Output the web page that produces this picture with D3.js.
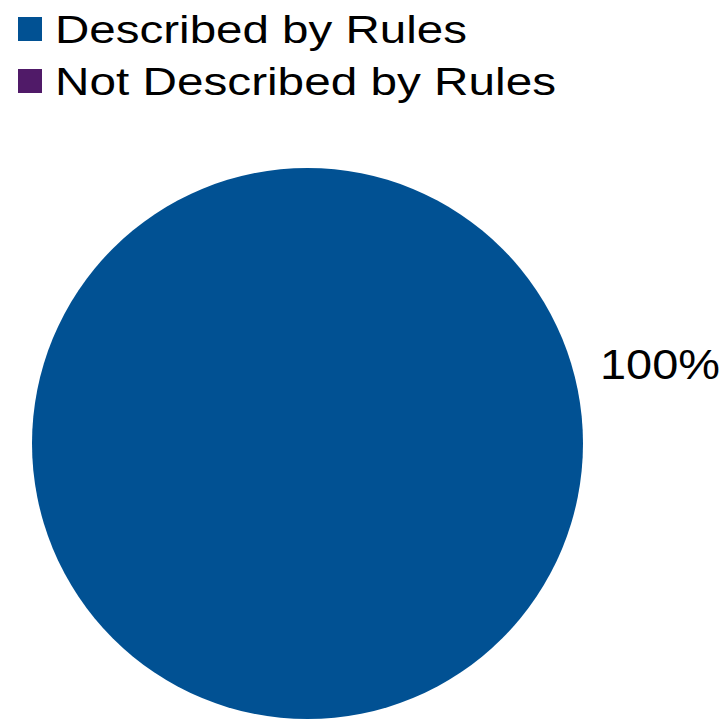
<!DOCTYPE html>
<html>
<head>
<meta charset="utf-8">
<script src="https://cdn.jsdelivr.net/npm/d3@7"></script>
<style>
  html, body { margin: 0; padding: 0; background: #fff; }
  svg { display: block; }
  text { font-family: "Liberation Sans", Arial, sans-serif; fill: #000; }
</style>
</head>
<body>
<svg id="chart" width="725" height="720"></svg>
<script>
const categories = ["Described by Rules", "Not Described by Rules"];
const values = [100, 0];
const colors = ["#015193", "#501A68"];
const labelTexts = ["100%", "0%"];

const svg = d3.select("#chart");
const width = 725, height = 720;
const cx = 307.5, cy = 443.5, radius = 275.5;

const color = d3.scaleOrdinal().domain(categories).range(colors);
const data = categories.map((c, i) => ({ category: c, value: values[i], label: labelTexts[i] }));

const pie = d3.pie().sort(null).value(d => d.value);
const arc = d3.arc().innerRadius(0).outerRadius(radius);

const g = svg.append("g").attr("transform", `translate(${cx},${cy})`);
const arcs = pie(data);
g.selectAll("path.slice")
  .data(arcs.filter(d => d.data.value > 0))
  .join("path")
  .attr("class", "slice")
  .attr("d", arc)
  .attr("fill", d => color(d.data.category));

// data label for the non-zero slice, placed to the right of the pie
g.selectAll("text.lbl")
  .data(arcs.filter(d => d.data.value > 0))
  .join("text")
  .attr("class", "lbl")
  .attr("x", radius + 17)
  .attr("y", -65)
  .attr("font-size", 43)
  .attr("textLength", 120)
  .attr("lengthAdjust", "spacingAndGlyphs")
  .text(d => d.data.label);

// legend
const legendWidths = [412, 501];
const legend = svg.append("g").attr("transform", "translate(18,17)");
const items = legend.selectAll("g.item")
  .data(categories)
  .join("g")
  .attr("class", "item")
  .attr("transform", (d, i) => `translate(0,${i * 52})`);
items.append("rect")
  .attr("width", 24).attr("height", 24)
  .attr("fill", d => color(d));
items.append("text")
  .attr("x", 37)
  .attr("y", 26)
  .attr("font-size", 39)
  .attr("textLength", (d, i) => legendWidths[i])
  .attr("lengthAdjust", "spacingAndGlyphs")
  .text(d => d);
</script>
</body>
</html>
